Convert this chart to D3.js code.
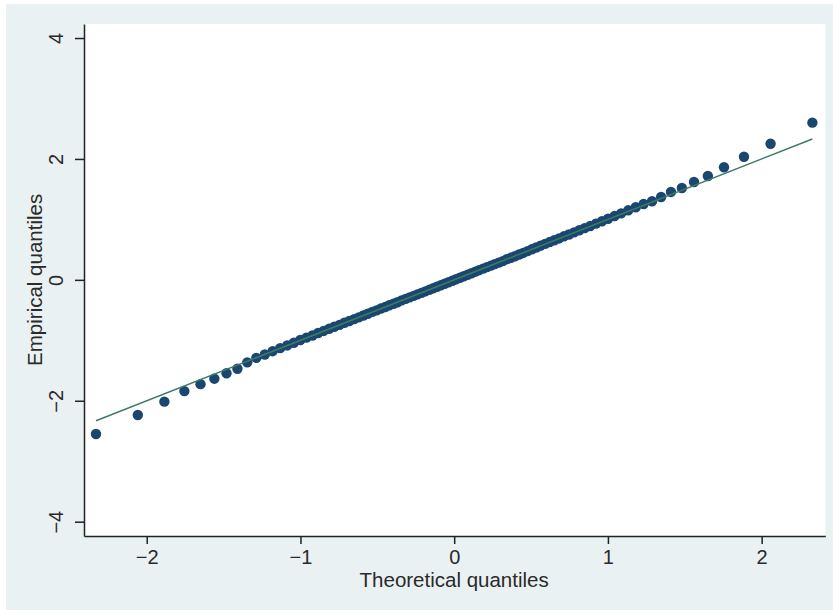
<!DOCTYPE html>
<html>
<head>
<meta charset="utf-8">
<script src="https://cdn.jsdelivr.net/npm/d3@7"></script>
<style>
  html, body { margin: 0; padding: 0; background: #fff; }
  svg { display: block; font-family: "Liberation Sans", Arial, sans-serif; }
</style>
</head>
<body>
<svg id="chart" width="833" height="610"></svg>
<script>
// theoretical quantiles (x) and empirical quantiles (y)
let theoretical = [
  -2.330, -2.058, -1.885, -1.755, -1.650, -1.560, -1.481, -1.410, -1.346, -1.287,
  -1.232, -1.181, -1.132, -1.086, -1.043, -1.001, -0.961, -0.922, -0.885, -0.849,
  -0.814, -0.780, -0.746, -0.714, -0.682, -0.651, -0.621, -0.591, -0.562, -0.533,
  -0.505, -0.477, -0.449, -0.422, -0.395, -0.369, -0.342, -0.316, -0.290, -0.264,
  -0.239, -0.213, -0.188, -0.162, -0.137, -0.112, -0.087, -0.062, -0.037, -0.012,
  0.012, 0.037, 0.062, 0.087, 0.112, 0.137, 0.162, 0.188, 0.213, 0.239,
  0.264, 0.290, 0.316, 0.342, 0.369, 0.395, 0.422, 0.449, 0.477, 0.505,
  0.533, 0.562, 0.591, 0.621, 0.651, 0.682, 0.714, 0.746, 0.780, 0.814,
  0.849, 0.885, 0.922, 0.961, 1.001, 1.043, 1.086, 1.132, 1.181, 1.232,
  1.287, 1.346, 1.410, 1.481, 1.560, 1.650, 1.755, 1.885, 2.058, 2.330
];
let empirical = [
  -2.550, -2.235, -2.015, -1.840, -1.725, -1.635, -1.545, -1.470, -1.365, -1.290,
  -1.235, -1.180, -1.130, -1.085, -1.040, -0.995, -0.955, -0.920, -0.880, -0.845,
  -0.810, -0.775, -0.745, -0.710, -0.680, -0.650, -0.620, -0.590, -0.560, -0.530,
  -0.505, -0.475, -0.450, -0.420, -0.395, -0.370, -0.340, -0.315, -0.290, -0.265,
  -0.240, -0.215, -0.190, -0.165, -0.140, -0.115, -0.090, -0.065, -0.040, -0.015,
  0.010, 0.035, 0.060, 0.085, 0.110, 0.135, 0.160, 0.185, 0.210, 0.235,
  0.260, 0.285, 0.310, 0.340, 0.365, 0.390, 0.420, 0.445, 0.475, 0.505,
  0.535, 0.565, 0.595, 0.625, 0.655, 0.685, 0.720, 0.750, 0.785, 0.820,
  0.855, 0.890, 0.930, 0.970, 1.010, 1.055, 1.100, 1.150, 1.200, 1.255,
  1.300, 1.371, 1.454, 1.520, 1.619, 1.718, 1.862, 2.037, 2.252, 2.600
];
// reference line endpoints
let refX = [-2.33, 2.33];
let refY = [-2.33, 2.33];

let xTicks = [-2, -1, 0, 1, 2];
let yTicks = [-4, -2, 0, 2, 4];
let xTitle = "Theoretical quantiles";
let yTitle = "Empirical quantiles";

let plot = { left: 84, top: 24, right: 825.3, bottom: 536 };

let svg = d3.select("#chart");

// outer graph region
svg.append("rect")
    .attr("x", 6).attr("y", 4)
    .attr("width", 833 - 6).attr("height", 610 - 4)
    .attr("fill", "#eaf1f3");

svg.append("rect")
    .attr("x", plot.left).attr("y", plot.top)
    .attr("width", plot.right - plot.left).attr("height", plot.bottom - plot.top)
    .attr("fill", "#ffffff");

let xScale = d3.scaleLinear()
        .domain([-2.408, 2.414])
        .range([plot.left, plot.right]);
let yScale = d3.scaleLinear()
        .domain([-4.237, 4.232])
        .range([plot.bottom, plot.top]);

let fmt = d => d < 0 ? "\u2212" + Math.abs(d) : String(d);

let xAxis = d3.axisBottom(xScale)
        .tickValues(xTicks)
        .tickSize(8)
        .tickPadding(4)
        .tickSizeOuter(0)
        .tickFormat(fmt);
let yAxis = d3.axisLeft(yScale)
        .tickValues(yTicks)
        .tickSize(9)
        .tickSizeOuter(0)
        .tickFormat(fmt);

let gx = svg.append("g")
    .attr("transform", "translate(0," + plot.bottom + ")")
    .call(xAxis);
gx.selectAll("text")
    .attr("font-size", 20)
    .attr("fill", "#2a2a2a")
    .attr("dy", "0.78em");

let gy = svg.append("g")
    .attr("transform", "translate(" + plot.left + ",0)")
    .call(yAxis);
gy.selectAll("text")
    .attr("font-size", 20)
    .attr("fill", "#2a2a2a")
    .attr("x", null).attr("dy", null)
    .attr("text-anchor", "middle")
    .attr("transform", "translate(-21,0) rotate(-90)");

svg.selectAll(".domain, .tick line")
    .attr("stroke", "#222")
    .attr("stroke-width", 1.5);

// points
let points = theoretical.map((t, i) => ({ x: t, y: empirical[i] }));
svg.append("g")
    .selectAll("circle")
    .data(points)
    .enter()
    .append("circle")
    .attr("cx", d => xScale(d.x))
    .attr("cy", d => yScale(d.y))
    .attr("r", 5.2)
    .attr("fill", "#1a476f");

// reference line
let line = d3.line()
        .x(d => xScale(d.x))
        .y(d => yScale(d.y));
svg.append("path")
    .datum(refX.map((v, i) => ({ x: v, y: refY[i] })))
    .attr("d", line)
    .attr("fill", "none")
    .attr("stroke", "#3e7b66")
    .attr("stroke-width", 1.5);

// axis titles
svg.append("text")
    .attr("x", (plot.left + plot.right) / 2 - 0.5)
    .attr("y", 587)
    .attr("text-anchor", "middle")
    .attr("font-size", 20.5)
    .attr("fill", "#2a2a2a")
    .text(xTitle);

svg.append("text")
    .attr("transform", "translate(42," + yScale(0) + ") rotate(-90)")
    .attr("text-anchor", "middle")
    .attr("font-size", 20.5)
    .attr("fill", "#2a2a2a")
    .text(yTitle);
</script>
</body>
</html>
